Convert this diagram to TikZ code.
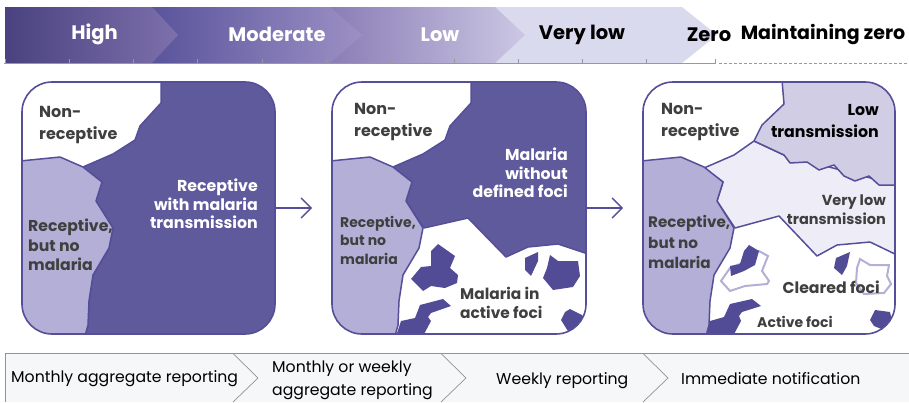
\documentclass[tikz,border=0pt]{standalone}
\usepackage{fontspec}
\setmainfont{Poppins}
\usetikzlibrary{arrows.meta}
\definecolor{darkreg}{HTML}{5F5A9C}
\definecolor{lightreg}{HTML}{B3AFD6}
\definecolor{lowreg}{HTML}{D1CDE5}
\definecolor{vlowreg}{HTML}{EEEDF7}
\definecolor{edgecol}{HTML}{544F98}
\definecolor{focuscol}{HTML}{524C96}
\definecolor{inkcol}{HTML}{3F3F3F}
\definecolor{bandcol}{HTML}{F6F7F9}
\definecolor{highleft}{HTML}{4A4280}
\definecolor{highright}{HTML}{7D70AB}
\definecolor{modleft}{HTML}{5A549C}
\definecolor{modright}{HTML}{9C90C4}
\definecolor{lowleft}{HTML}{8A7DB6}
\definecolor{lowright}{HTML}{CBC7E3}
\definecolor{vlowfill}{HTML}{DADAEE}
\tikzset{
	phase/.style = {inner sep=0pt, font=\bfseries\fontsize{19.5}{22}\selectfont},
	arealabel/.style = {inner sep=0pt, font=\bfseries\fontsize{16}{21.5}\selectfont, text=inkcol},
	smalllabel/.style = {arealabel, font=\bfseries\fontsize{14}{18.5}\selectfont},
	whitelabel/.style = {arealabel, text=white, font=\bfseries\fontsize{15.8}{18.5}\selectfont},
	report/.style = {inner sep=0pt, font=\fontsize{15.7}{23}\selectfont, text=black},
	panel/.style = {draw=edgecol, line width=1.6pt, rounded corners=30pt, minimum width=253pt, minimum height=252pt, inner sep=0pt},
	region/.style = {draw=edgecol, line width=1.5pt, line join=round},
	focus/.style = {fill=focuscol},
	cleared/.style = {draw=lightreg, line width=2pt, fill=white},
	flow/.style = {draw=edgecol, line width=1.5pt, -{Straight Barb[length=10pt,width=20pt]}, shorten >=19pt},
	lightside/.pic = {
		\filldraw[region, fill=lightreg] (-2,79) -- (38,75) -- (61,85) -- (80,100) -- (74,119) -- (91,146) -- (87,166) -- (71,193) -- (67,219) -- (66,243) -- (63,254) -- (-2,254) -- cycle;
	}
}
\begin{document}
\begin{tikzpicture}[x=1pt,y=-1pt]
	\useasboundingbox (0,0) rectangle (909,402);
	% scale along the top
	\fill[vlowfill] (495,7) -- (682,7) -- (717,35) -- (682,63) -- (495,63) -- cycle;
	\shade[left color=lowleft, right color=lowright] (330,7) -- (495,7) -- (525,35) -- (495,63) -- (330,63) -- cycle;
	\shade[left color=modleft, right color=modright] (152,7) -- (330,7) -- (362,35) -- (330,63) -- (152,63) -- cycle;
	\shade[left color=highleft, right color=highright] (5,7) -- (152,7) -- (178,35) -- (152,63) -- (5,63) -- cycle;
	\draw[gray!80, line width=1.1pt] (4,63.5) -- (716,63.5);
	\foreach \tick in {5,69,133.5,197.5,262,326,390,454,518,582,646,715}
		\draw[gray!80, line width=0.7pt] (\tick,63.5) -- (\tick,58.5);
	\draw[gray!80, line width=0.9pt, dash pattern=on 3pt off 2pt] (719,63) -- (909,63);
	\node [phase, text=white] (high) at (94.5,34.5) {High};
	\node [phase, text=white] (moderate) at (277,34.5) {Moderate};
	\node [phase, text=white] (low) at (440,34.5) {Low};
	\node [phase] (verylow) at (582,34.5) {Very low};
	\node [phase] (zero) at (709,34.5) {Zero};
	\node [phase, font=\bfseries\fontsize{19}{22}\selectfont] (maintain) at (823,34.5) {Maintaining zero};
	% first panel
	\begin{scope}[shift={(22,82)}]
		\clip[rounded corners=30pt] (0,0) rectangle (253,252);
		\filldraw[region, fill=darkreg] (139,-2) -- (139,21) -- (118,44) -- (113,58) -- (91,72) -- (61,85) -- (80,100) -- (74,119) -- (91,146) -- (87,166) -- (71,193) -- (67,219) -- (66,243) -- (63,254) -- (255,254) -- (255,-2) -- cycle;
		\pic {lightside};
	\end{scope}
	\node [panel] (panelone) at (148.5,208) {};
	% second panel
	\begin{scope}[shift={(332,82)}]
		\clip[rounded corners=30pt] (0,0) rectangle (254,252);
		\filldraw[region, fill=darkreg] (139,-2) -- (139,21) -- (118,44) -- (113,58) -- (91,72) -- (61,85) -- (80,100) -- (74,119) -- (92,146) -- (136,136) -- (174,175) -- (196,165) -- (226,162) -- (256,172) -- (256,-2) -- cycle;
		\pic {lightside};
		\fill[focus] (106,162) -- (123,174) -- (118,186) -- (126,193) -- (125,201) -- (113,206) -- (99,204) -- (91,209) -- (79,197) -- (89,185) -- (99,184) -- (99,169) -- cycle;
		\fill[focus] (206,170) -- (206,179) -- (199,194) -- (193,188) -- (193,176) -- cycle;
		\fill[focus] (218,173) -- (226,179) -- (246,179) -- (248,194) -- (241,205) -- (221,208) -- (211,196) -- (215,186) -- cycle;
		\fill[focus] (64,254) -- (69,239) -- (83,236) -- (88,223) -- (111,217) -- (119,224) -- (99,231) -- (96,235) -- (99,239) -- (91,254) -- cycle;
		\fill[focus] (229,238) -- (233,230) -- (238,227) -- (250,233) -- (255,240) -- (255,254) -- (239,254) -- (234,246) -- cycle;
	\end{scope}
	\node [panel, minimum width=254pt] (paneltwo) at (459,208) {};
	% third panel
	\begin{scope}[shift={(643,82)}]
		\clip[rounded corners=30pt] (0,0) rectangle (252,252);
		\filldraw[region, fill=vlowreg] (61,86) -- (91,73) -- (111,59) -- (141,73) -- (254,103) -- (254,173) -- (227,160) -- (194,163) -- (174,174) -- (136,134) -- (92,146) -- (74,119) -- (80,100) -- cycle;
		\filldraw[region, fill=lowreg] (139,-2) -- (141,22) -- (119,43) -- (111,59) -- (141,73) -- (147,81) -- (164,80) -- (176,88) -- (191,83) -- (201,94) -- (212,99) -- (226,94) -- (236,103) -- (254,103) -- (254,-2) -- cycle;
		\pic {lightside};
		\filldraw[cleared] (116,169) -- (125,174) -- (119,189) -- (126,199) -- (124,202) -- (102,204) -- (87,209) -- (78,199) -- (87,186) -- (97,182) -- cycle;
		\fill[focus] (106,163) -- (116,169) -- (112,183) -- (101,189) -- (88,194) -- (87,184) -- (97,182) -- (101,169) -- cycle;
		\fill[focus] (207,170) -- (204,184) -- (199,193) -- (191,186) -- (193,176) -- cycle;
		\filldraw[cleared, fill=none] (217,177) -- (227,183) -- (246,183) -- (244,194) -- (248,202) -- (241,211) -- (221,212) -- (213,201) -- (214,186) -- cycle;
		\fill[focus] (63,254) -- (67,239) -- (81,235) -- (87,222) -- (109,217) -- (118,224) -- (99,230) -- (96,234) -- (98,239) -- (90,254) -- cycle;
		\fill[focus] (227,238) -- (232,228) -- (247,230) -- (249,239) -- (241,248) -- (231,244) -- cycle;
	\end{scope}
	\node [panel, minimum width=252pt] (panelthree) at (769,208) {};
	% arrows
	\draw[flow] (panelone.east) -- (paneltwo.west);
	\draw[flow] (paneltwo.east) -- (panelthree.west);
	% labels
	\node [arealabel, align=left, anchor=west] (nonone) at (39,125) {Non-\\receptive};
	\node [arealabel, align=left, anchor=west, font=\bfseries\fontsize{15.7}{19.5}\selectfont] (recone) at (28,245) {Receptive,\\but no\\malaria};
	\node [whitelabel, align=right, anchor=east] (maltrans) at (258,204) {Receptive\\with malaria\\transmission};
	\node [arealabel, align=left, anchor=west] (nontwo) at (354,122) {Non-\\receptive};
	\node [smalllabel, align=left, anchor=west] (rectwo) at (340,240) {Receptive,\\but no\\malaria};
	\node [whitelabel, align=right, anchor=east] (nofoci) at (568,173) {Malaria\\without\\defined foci};
	\node [smalllabel, align=left, anchor=west, font=\bfseries\fontsize{15.4}{18.5}\selectfont] (activetwo) at (460,303) {Malaria in\\active foci};
	\node [arealabel, align=left, anchor=west] (nonthree) at (661,122) {Non-\\receptive};
	\node [arealabel, align=left, anchor=west, font=\bfseries\fontsize{15.2}{20.5}\selectfont] (recthree) at (648,242) {Receptive,\\but no\\malaria};
	\node [arealabel, align=right, anchor=east, text=black, font=\bfseries\fontsize{15.8}{21.5}\selectfont] (lowtrans) at (879,121) {Low\\transmission};
	\node [smalllabel, align=right, anchor=east, font=\bfseries\fontsize{14.5}{19}\selectfont] (vlowtrans) at (886,210) {Very low\\transmission};
	\node [arealabel, anchor=east, font=\bfseries\fontsize{15.7}{19}\selectfont] (clearedfoci) at (880,287) {Cleared foci};
	\node [smalllabel, anchor=west] (activefoci) at (757,322) {Active foci};
	% reporting band
	\fill[bandcol] (5,354) rectangle (909,402);
	\draw[gray!85, line width=0.8pt] (5,402) -- (5,353.5) -- (909,353.5);
	\foreach \x in {233,441,643}
		\draw[gray!85, line width=0.7pt] (\x,353.5) -- ({\x+25},378) -- (\x,402);
	\node [report, anchor=west] (monthly) at (11,379) {Monthly aggregate reporting};
	\node [report, align=left, anchor=west] (monthlyweekly) at (272,380.5) {Monthly or weekly\\aggregate reporting};
	\node [report, anchor=west] (weekly) at (496,381) {Weekly reporting};
	\node [report, anchor=west] (immediate) at (681,379) {Immediate notification};
\end{tikzpicture}
\end{document}
